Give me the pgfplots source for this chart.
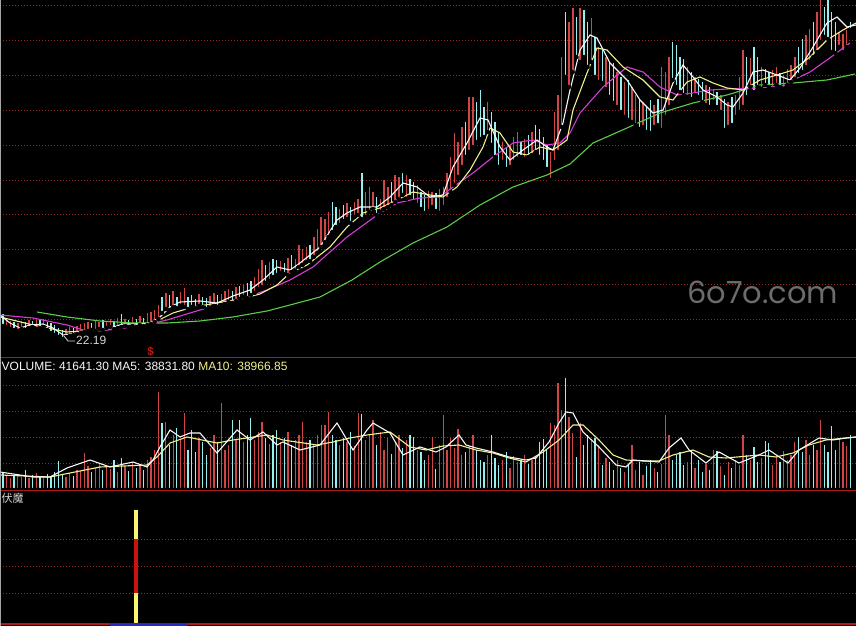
\documentclass[border=0pt]{standalone}
\usepackage{pgfplots}
\pgfplotsset{compat=1.18}
\usepackage{pgfplotstable}
\usepackage{fontspec}
\setmainfont{Liberation Sans}
\newfontfamily\cjk{Noto Sans CJK SC}
\newfontfamily\wm{Poppins}
\definecolor{cred}{RGB}{208,70,70}
\definecolor{ccyan}{RGB}{150,238,238}
\definecolor{mawhite}{RGB}{248,248,248}
\definecolor{mayellow}{RGB}{240,240,140}
\definecolor{mamag}{RGB}{215,60,215}
\definecolor{magreen}{RGB}{90,205,70}
\definecolor{gridred}{RGB}{150,40,40}
\definecolor{linered}{RGB}{175,25,25}
\definecolor{sigyel}{RGB}{250,245,110}
\definecolor{sigred}{RGB}{200,20,20}
\definecolor{wmgray}{RGB}{108,108,108}
\definecolor{barblue}{RGB}{40,40,190}
\definecolor{txtgray}{RGB}{215,215,215}

\pgfplotstableread{
i l h u v
0 31 43 0 18
1 30 38 1 15
2 28 36 1 12
3 27 35 0 14
4 26 34 1 16
5 28 36 1 13
6 27 35 0 20
7 29 37 1 12
8 30 36 0 15
9 28 37 1 17
10 29 37 0 14
11 30 38 1 12
12 27 35 0 16
13 24 34 0 14
14 22 32 0 18
15 20 29 0 29
16 18 27 0 15
17 20 28 1 13
18 21 30 1 17
19 22 29 0 14
20 23 31 1 20
21 24 33 1 19
22 25 34 1 37
23 26 35 1 24
24 27 34 0 18
25 26 36 1 22
26 28 35 1 27
27 27 37 0 20
28 29 36 1 25
29 30 38 1 21
30 28 36 0 30
31 29 39 1 18
32 30 43 0 32
33 31 38 1 24
34 30 37 0 19
35 31 40 1 28
36 30 38 0 22
37 32 41 1 26
38 31 39 0 20
39 32 44 1 30
40 33 45 1 33
41 35 47 1 40
42 38 52 1 98
43 44 60 0 67
44 48 64 1 68
45 47 62 0 45
46 50 66 1 55
47 49 60 0 62
48 51 65 1 50
49 50 69 1 77
50 48 60 0 40
51 50 62 0 60
52 49 58 0 38
53 51 63 1 52
54 50 60 0 48
55 48 59 0 35
56 49 61 1 42
57 51 64 1 55
58 50 62 0 48
59 52 63 1 87
60 53 66 1 40
61 55 68 1 45
62 54 66 0 70
63 56 70 1 50
64 58 71 0 70
65 60 72 1 48
66 59 74 0 55
67 62 76 0 72
68 64 80 1 50
69 68 88 1 58
70 70 97 1 68
71 74 92 0 52
72 76 95 1 46
73 80 98 0 55
74 82 97 0 60
75 84 96 1 48
76 83 94 0 52
77 82 99 1 58
78 85 102 0 45
79 86 98 1 50
80 90 112 1 55
81 92 108 1 68
82 95 110 1 48
83 96 112 0 50
84 100 120 1 45
85 104 128 1 55
86 110 140 1 65
87 115 138 1 65
88 120 145 1 78
89 125 155 0 55
90 130 150 0 50
91 132 148 1 45
92 136 152 0 52
93 138 154 1 48
94 134 150 0 58
95 140 155 1 44
96 142 158 1 77
97 138 184 0 76
98 140 165 1 50
99 145 170 1 55
100 148 165 1 70
101 142 160 0 45
102 145 158 1 58
103 148 177 1 40
104 150 170 1 52
105 152 175 0 36
106 155 182 1 48
107 158 180 1 55
108 162 184 0 42
109 158 182 1 50
110 160 178 0 55
111 155 175 0 53
112 152 172 1 40
113 148 165 0 38
114 144 162 0 30
115 146 166 1 35
116 150 165 1 53
117 146 164 0 21
118 144 168 1 45
119 150 170 1 75
120 158 184 1 40
121 165 200 1 52
122 172 224 1 42
123 180 215 1 61
124 190 230 1 35
125 200 235 0 38
126 205 260 1 44
127 210 260 1 55
128 215 255 0 40
129 218 267 0 30
130 220 250 0 28
131 225 255 1 35
132 212 245 0 55
133 200 235 0 32
134 190 225 0 25
135 195 215 1 30
136 188 210 0 38
137 190 212 1 22
138 195 220 1 34
139 198 225 1 28
140 200 215 0 30
141 198 218 1 35
142 200 222 0 26
143 202 225 1 30
144 205 232 0 33
145 200 228 0 48
146 195 220 0 51
147 188 212 0 40
148 177 205 1 67
149 195 245 1 65
150 205 262 1 107
151 230 300 1 80
152 280 345 0 112
153 270 335 1 73
154 285 349 1 57
155 300 340 0 33
156 295 349 1 67
157 300 347 0 45
158 290 335 0 55
159 295 339 1 50
160 280 320 0 52
161 275 310 1 45
162 274 307 0 25
163 268 300 1 32
164 260 295 0 28
165 254 294 0 20
166 250 285 1 30
167 245 280 0 22
168 240 275 1 18
169 237 277 0 25
170 235 270 1 45
171 232 262 1 20
172 228 258 0 28
173 230 255 1 15
174 225 250 0 24
175 224 257 0 30
176 230 252 1 22
177 232 258 0 18
178 227 290 1 26
179 240 285 1 75
180 250 300 1 55
181 277 315 0 30
182 270 312 0 35
183 265 300 0 38
184 262 298 0 25
185 260 290 1 28
186 258 285 0 40
187 262 280 1 22
188 260 278 0 30
189 255 275 0 18
190 252 272 1 26
191 250 270 0 20
192 255 268 1 40
193 250 265 0 39
194 245 262 1 24
195 227 258 0 15
196 230 255 1 28
197 232 260 0 22
198 240 262 1 30
199 245 280 1 25
200 250 307 1 55
201 260 300 0 35
202 270 299 1 30
203 265 310 0 43
204 270 300 0 28
205 268 290 1 32
206 272 288 0 49
207 270 285 0 47
208 268 287 1 25
209 272 290 1 33
210 270 284 0 28
211 268 282 1 39
212 272 288 1 30
213 275 292 1 35
214 278 300 1 48
215 282 310 0 53
216 285 318 0 38
217 290 322 1 50
218 295 328 1 35
219 300 335 0 45
220 305 345 1 40
221 315 357 1 70
222 320 350 0 45
223 318 357 0 38
224 305 345 0 64
225 304 335 0 40
226 310 325 1 52
227 305 323 1 48
228 310 327 1 44
229 327 335 0 55
}\candles

\pgfplotsset{
  panel/.style={scale only axis, anchor=south west, width=856pt, xmin=0, xmax=856,
    axis line style={draw=none}, xtick=\empty, yticklabels={}, major tick length=0pt,
    ymajorgrids, major grid style={draw=gridred, dash pattern=on 1pt off 2pt, line width=0.9pt}},
  redsel/.style={restrict expr to domain={\thisrow{u}}{0.5:1.5}},
  cyansel/.style={restrict expr to domain={\thisrow{u}}{-0.5:0.5}},
}

\begin{document}
\begin{tikzpicture}
\useasboundingbox (0pt,0pt) rectangle (856pt,626pt);
\fill[black] (0pt,0pt) rectangle (856pt,626pt);

% ---------------- price panel
\begin{axis}[panel, at={(0pt,269pt)}, height=357pt, ymin=0, ymax=357,
  ytick={38,73,108,143,177,212,247,282,317,352}]
\addplot[only marks, mark=none, redsel, error bars/.cd, y dir=plus, y explicit, error mark=none,
  error bar style={draw=cred, line width=1.5pt}]
  table[x expr=2.96+3.7*\thisrow{i}, y=l, y error expr=\thisrow{h}-\thisrow{l}] {\candles};
\addplot[only marks, mark=none, cyansel, error bars/.cd, y dir=plus, y explicit, error mark=none,
  error bar style={draw=ccyan, line width=1.3pt}]
  table[x expr=2.96+3.7*\thisrow{i}, y=l, y error expr=\thisrow{h}-\thisrow{l}] {\candles};
% MA60 green
\addplot[magreen, line width=1.1pt] coordinates {(37,45)(67,40)(100,36)(133,34)(167,34)(200,36)(233,40)(267,46)(290,52)(320,60)(352,77)(380,95)(413,114)(447,130)(480,152)(513,170)(547,182)(570,193)(593,214)(627,229)(660,244)(693,254)(727,262)(760,272)(793,274)(827,277)(855,283)};
% MA20 magenta
\addplot[mamag, line width=1.1pt] coordinates {(0,42)(33,39)(67,32)(83,27)(100,26)(133,30)(150,33)(167,37)(200,47)(233,55)(267,67)(290,77)(313,90)(347,120)(380,144)(397,154)(420,159)(440,160)(453,170)(473,184)(493,200)(513,214)(533,217)(547,212)(560,214)(570,224)(580,244)(603,270)(627,290)(643,285)(660,270)(677,262)(693,264)(710,267)(727,268)(760,269)(787,272)(793,277)(810,285)(827,297)(850,314)};
% MA10 yellow
\addplot[mayellow, line width=1.1pt] coordinates {(0,40)(33,32)(67,25)(100,27)(133,31)(153,34)(173,44)(193,50)(217,54)(240,58)(260,63)(277,72)(290,84)(307,92)(330,110)(347,130)(363,144)(380,149)(397,157)(413,165)(430,162)(443,160)(457,170)(470,187)(483,210)(490,229)(500,224)(513,205)(527,202)(540,210)(553,207)(567,217)(573,247)(587,284)(597,309)(607,307)(623,290)(643,277)(660,260)(673,257)(687,275)(700,280)(713,274)(727,269)(743,267)(760,277)(777,282)(793,287)(810,300)(827,317)(843,327)(856,334)};
% MA5 white
\addplot[mawhite, line width=1.1pt] coordinates {(0,42)(10,34)(20,29)(30,32)(43,33)(53,29)(63,22)(77,24)(93,27)(110,29)(123,33)(140,33)(150,34)(160,40)(170,50)(180,55)(200,56)(217,54)(233,61)(250,67)(263,77)(277,90)(290,87)(300,94)(320,110)(337,137)(347,144)(360,150)(377,150)(390,160)(403,174)(417,170)(430,160)(443,162)(453,190)(467,214)(480,239)(488,237)(500,210)(510,197)(523,207)(537,217)(547,210)(553,207)(563,234)(570,267)(580,307)(590,322)(597,319)(610,294)(627,277)(640,257)(653,244)(663,247)(673,274)(683,292)(693,280)(703,267)(717,260)(727,252)(733,250)(743,264)(753,285)(763,287)(777,282)(790,277)(800,289)(813,310)(827,334)(837,340)(847,330)(856,332)};
\end{axis}

% ---------------- volume panel
\begin{axis}[panel, at={(0pt,136pt)}, height=133pt, ymin=0, ymax=133,
  ytick={27,53,79,105}]
\addplot[only marks, mark=none, redsel, error bars/.cd, y dir=plus, y explicit, error mark=none,
  error bar style={draw=cred, line width=1.3pt}]
  table[x expr=2.96+3.7*\thisrow{i}, y expr=0, y error=v] {\candles};
\addplot[only marks, mark=none, cyansel, error bars/.cd, y dir=plus, y explicit, error mark=none,
  error bar style={draw=ccyan, line width=1.2pt}]
  table[x expr=2.96+3.7*\thisrow{i}, y expr=0, y error=v] {\candles};
\addplot[mayellow, line width=1.1pt] coordinates {(0,15)(50,13)(100,23)(147,25)(157,33)(170,47)(187,53)(217,47)(233,50)(267,55)(283,50)(317,45)(333,48)(350,52)(367,55)(390,58)(410,43)(426,40)(443,44)(459,45)(476,40)(493,37)(509,32)(526,28)(543,38)(559,50)(573,65)(583,65)(599,50)(613,35)(626,30)(643,29)(659,29)(673,35)(693,40)(709,33)(726,32)(759,35)(776,33)(793,37)(809,45)(826,50)(846,52)(856,53)};
\addplot[mawhite, line width=1.1pt] coordinates {(0,18)(33,13)(50,13)(67,22)(90,30)(110,23)(133,28)(147,23)(153,30)(160,43)(170,60)(180,53)(190,57)(200,57)(217,37)(237,60)(250,50)(263,58)(277,45)(283,48)(300,40)(320,45)(337,67)(353,40)(367,60)(373,67)(390,57)(403,35)(420,43)(436,38)(446,43)(459,55)(466,45)(476,42)(493,38)(509,33)(526,30)(536,32)(549,48)(559,67)(566,78)(573,77)(583,58)(599,43)(616,25)(626,23)(633,30)(659,28)(669,42)(681,52)(689,40)(706,27)(719,38)(739,27)(759,35)(769,40)(788,27)(799,40)(819,52)(833,50)(846,52)(856,53)};
\end{axis}

% ---------------- indicator panel
\begin{axis}[panel, at={(0pt,2pt)}, height=132pt, ymin=0, ymax=132,
  ytick={31,58,85}]
\addplot[sigyel, line width=3.6pt] coordinates {(136,0) (136,31)};
\addplot[sigred, line width=3.6pt] coordinates {(136,31) (136,85)};
\addplot[sigyel, line width=3.6pt] coordinates {(136,85) (136,114)};
\end{axis}

% frame lines
\draw[linered, line width=1.4pt] (0pt,268.5pt) -- (856pt,268.5pt);
\draw[linered, line width=1.2pt] (0pt,135.5pt) -- (856pt,135.5pt);
\draw[linered, line width=1.2pt] (0pt,2pt) -- (856pt,2pt);
\fill[barblue] (110pt,0pt) rectangle (188pt,2.6pt);
\draw[gray!70, line width=1pt] (0.5pt,0pt) -- (0.5pt,626pt);

% texts
\node[anchor=base west, inner sep=0pt, text=mawhite, font=\fontsize{12}{14}\selectfont] at (1.5pt,255pt)
  {VOLUME: 41641.30 MA5: 38831.80 \textcolor{mayellow}{MA10: 38966.85}};
\node[anchor=base west, inner sep=0pt, text=txtgray, font=\fontsize{12}{14}\selectfont] at (76pt,281pt) {22.19};
\draw[txtgray, line width=0.8pt] (64pt,290pt) -- (68pt,285pt) -- (75pt,285pt);
\node[anchor=center, inner sep=0pt, text=sigred, font=\fontsize{11.5}{13}\selectfont\bfseries] at (150.5pt,274.5pt) {\$};
\node[anchor=base west, inner sep=0pt, text=txtgray, font=\cjk\fontsize{11}{13}\selectfont] at (1.5pt,123pt) {伏魔};
\node[anchor=base west, inner sep=0pt, text=wmgray, font=\wm\fontsize{30.5}{35}\selectfont] at (687pt,322pt) {6o7o.com};
\end{tikzpicture}
\end{document}
